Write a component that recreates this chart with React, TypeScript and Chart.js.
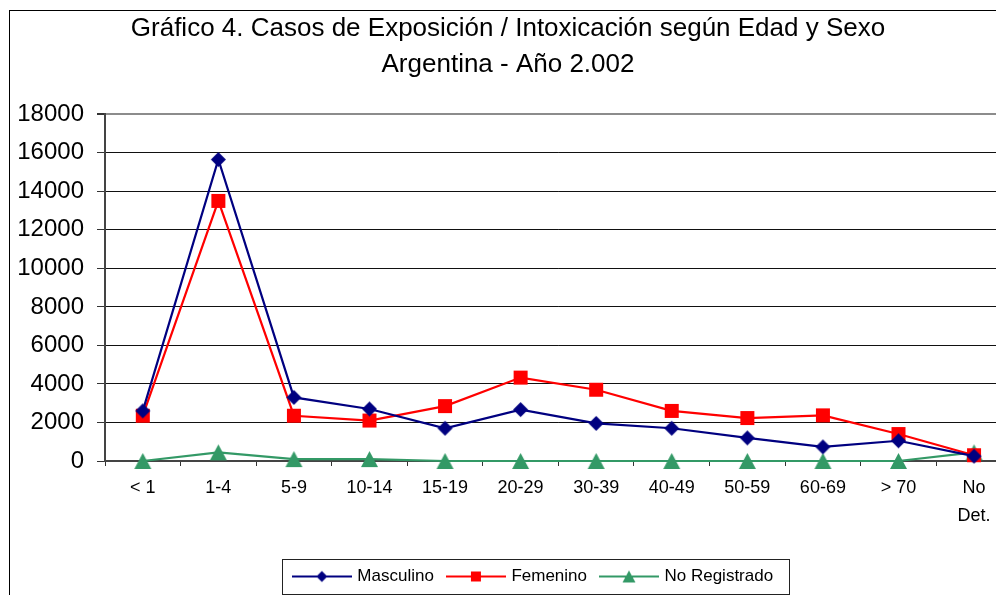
import React, { useEffect, useRef } from "react";
import { Chart, registerables } from "chart.js";

Chart.register(...registerables);

const titleLines = [
  "Gráfico 4. Casos de Exposición / Intoxicación según Edad y Sexo",
  "Argentina - Año 2.002",
];
const categories: (string | string[])[] = [
  "< 1", "1-4", "5-9", "10-14", "15-19", "20-29", "30-39", "40-49", "50-59", "60-69", "> 70", ["No", "Det."],
];
const masculino = [2600, 15650, 3300, 2700, 1700, 2670, 1950, 1700, 1200, 730, 1050, 250];
const femenino = [2350, 13500, 2350, 2100, 2850, 4330, 3700, 2600, 2230, 2370, 1400, 300];
const noRegistrado = [0, 450, 100, 100, 0, 0, 0, 0, 0, 0, 0, 450];
const seriesNames = ["Masculino", "Femenino", "No Registrado"];
const yMin = 0;
const yMax = 18000;
const yStep = 2000;

const FONT = "'Liberation Sans', Arial, Helvetica, sans-serif";
const NAVY = "#000080";
const RED = "#ff0000";
const GREEN = "#339966";

type Shape = "diamond" | "square" | "triangle";

function drawShape(ctx: CanvasRenderingContext2D, shape: Shape, cx: number, cy: number, w: number, h: number, color: string) {
  ctx.fillStyle = color;
  ctx.beginPath();
  if (shape === "diamond") {
    ctx.moveTo(cx, cy - h / 2);
    ctx.lineTo(cx + w / 2, cy);
    ctx.lineTo(cx, cy + h / 2);
    ctx.lineTo(cx - w / 2, cy);
  } else if (shape === "square") {
    ctx.rect(cx - w / 2, cy - h / 2, w, h);
  } else {
    ctx.moveTo(cx, cy - h / 2);
    ctx.lineTo(cx + w / 2, cy + h / 2);
    ctx.lineTo(cx - w / 2, cy + h / 2);
  }
  ctx.closePath();
  ctx.fill();
}

function markerImage(shape: Shape, w: number, h: number, color: string) {
  const c = document.createElement("canvas");
  c.width = w + 2;
  c.height = h + 2;
  const ctx = c.getContext("2d")!;
  drawShape(ctx, shape, c.width / 2, c.height / 2, w, h, color);
  return c;
}

function legendImage(shape: Shape, w: number, h: number, color: string) {
  const c = document.createElement("canvas");
  c.width = 60;
  c.height = 16;
  const ctx = c.getContext("2d")!;
  ctx.strokeStyle = color;
  ctx.lineWidth = 2;
  ctx.beginPath();
  ctx.moveTo(0, 8);
  ctx.lineTo(60, 8);
  ctx.stroke();
  drawShape(ctx, shape, 30, 8, w, h, color);
  return c;
}

export default function App() {
  const ref = useRef<HTMLCanvasElement | null>(null);

  useEffect(() => {
    if (!ref.current) return;
    const mDiamond = markerImage("diamond", 15, 15, NAVY);
    const mSquare = markerImage("square", 14, 14, RED);
    const mTriangle = markerImage("triangle", 17, 16, GREEN);
    const lDiamond = legendImage("diamond", 11, 11, NAVY);
    const lSquare = legendImage("square", 10, 10, RED);
    const lTriangle = legendImage("triangle", 13, 12, GREEN);
    const legendImgs = [lDiamond, lSquare, lTriangle];

    const framePlugin = {
      id: "frame",
      beforeDraw(chart: any) {
        const ctx = chart.ctx;
        ctx.save();
        ctx.fillStyle = "#ffffff";
        ctx.fillRect(0, 0, chart.width, chart.height);
        ctx.strokeStyle = "#000000";
        ctx.lineWidth = 1;
        ctx.strokeRect(9.5, 10.5, chart.width - 19, chart.height + 20);
        ctx.restore();
      },
      afterLayout(chart: any) {
        const lg = chart.legend;
        if (lg) {
          lg.left += 26;
          lg.right += 26;
        }
      },
      afterDraw(chart: any) {
        const lg = chart.legend;
        if (!lg || !lg.legendHitBoxes || !lg.legendHitBoxes.length) return;
        const hb = lg.legendHitBoxes;
        const first = hb[0];
        const last = hb[hb.length - 1];
        const left = Math.round(first.left - 12.5) + 0.5;
        const right = Math.round(last.left + last.width + 16) + 0.5;
        const top = Math.round(first.top - 9) + 0.5;
        const bottom = Math.round(first.top + first.height + 9) + 0.5;
        const ctx = chart.ctx;
        ctx.save();
        ctx.strokeStyle = "#222222";
        ctx.lineWidth = 1;
        ctx.strokeRect(left, top, right - left, bottom - top);
        ctx.restore();
      },
    };

    const mkDs = (label: string, data: number[], color: string, img: HTMLCanvasElement) => ({
      label,
      data,
      borderColor: color,
      backgroundColor: color,
      borderWidth: 2.2,
      pointStyle: img as any,
      pointRadius: 8,
      tension: 0,
      clip: false,
    });

    const chart = new Chart(ref.current, {
      type: "line",
      data: {
        labels: categories,
        datasets: [
          mkDs(seriesNames[0], masculino, NAVY, mDiamond),
          mkDs(seriesNames[1], femenino, RED, mSquare),
          mkDs(seriesNames[2], noRegistrado, GREEN, mTriangle),
        ],
      },
      options: {
        animation: false,
        responsive: false,
        devicePixelRatio: 1,
        layout: { padding: { left: 0, right: 6, top: 0, bottom: 0 } },
        plugins: {
          tooltip: { enabled: false },
          title: {
            display: true,
            text: titleLines,
            color: "#000000",
            font: { family: FONT, size: 26, weight: "normal", lineHeight: 1.37 },
            padding: { top: 11, bottom: 32 },
          },
          legend: {
            display: true,
            position: "bottom",
            labels: {
              usePointStyle: true,
              pointStyleWidth: 54,
              padding: 15,
              color: "#000000",
              font: { family: FONT, size: 17 },
              generateLabels: (c: any) =>
                c.data.datasets.map((ds: any, i: number) => ({
                  text: ds.label,
                  datasetIndex: i,
                  pointStyle: legendImgs[i],
                  fillStyle: ds.borderColor,
                  strokeStyle: ds.borderColor,
                  lineWidth: 0,
                  hidden: false,
                  fontColor: "#000000",
                })),
            },
          },
        },
        scales: {
          x: {
            type: "category",
            offset: true,
            afterFit: (s: any) => {
              s.height = 92;
            },
            grid: {
              offset: true,
              drawOnChartArea: false,
              drawTicks: true,
              tickLength: 5,
              tickColor: "#333333",
            },
            border: { display: true, color: "#444444", width: 2 },
            ticks: {
              color: "#000000",
              padding: 8,
              maxRotation: 0,
              autoSkip: false,
              font: { family: FONT, size: 18, lineHeight: 1.57 },
            },
          },
          y: {
            min: yMin,
            max: yMax,
            afterFit: (s: any) => {
              s.width = 105;
            },
            grid: {
              color: (ctx: any) => (ctx.tick && ctx.tick.value === yMax ? "#8c8c8c" : "#111111"),
              lineWidth: (ctx: any) => (ctx.tick && ctx.tick.value === yMax ? 2 : 1),
              tickLength: 8,
              tickColor: "#333333",
            },
            border: { display: true, color: "#444444", width: 2 },
            ticks: {
              stepSize: yStep,
              color: "#000000",
              padding: 13,
              font: { family: FONT, size: 24 },
              callback: (v: any) => String(v),
            },
          },
        },
      },
      plugins: [framePlugin],
    } as any);

    return () => chart.destroy();
  }, []);

  return (
    <div
      style={{
        position: "fixed",
        left: 0,
        top: 0,
        width: 996,
        height: 595,
        overflow: "hidden",
        background: "#ffffff",
      }}
    >
      <canvas ref={ref} width={1022} height={595} style={{ display: "block", width: 1022, height: 595 }} />
    </div>
  );
}
